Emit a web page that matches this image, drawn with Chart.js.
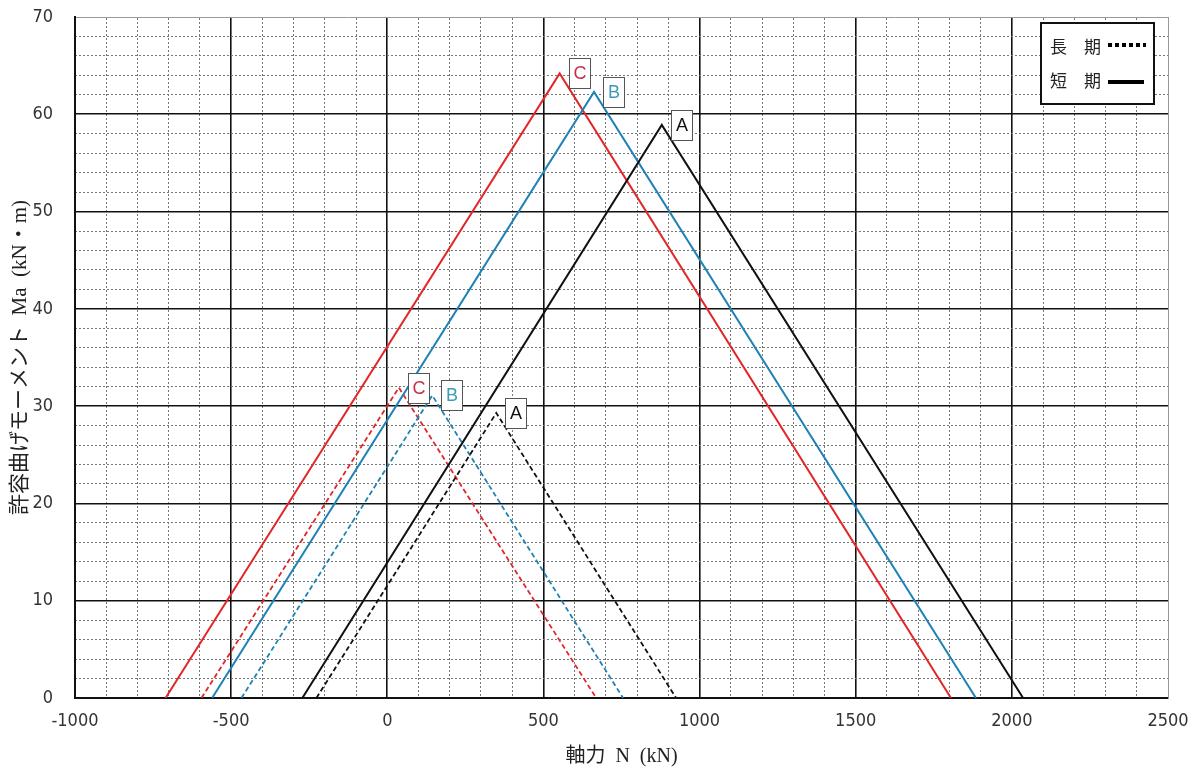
<!DOCTYPE html>
<html><head><meta charset="utf-8">
<script src="https://cdn.jsdelivr.net/npm/chart.js@4/dist/chart.umd.min.js"></script>
<style>html,body{margin:0;padding:0;background:#fff}canvas{display:block}</style>
</head><body>
<canvas id="c" width="1191" height="774"></canvas>
<script>
// ---- data (axial force N [kN] at start, peak, end ; moment Ma [kN·m]) ----
const seriesNames = ['A', 'B', 'C'];
const lineColors  = ['#111111', '#1f82b6', '#e2262a'];
const textColors  = ['#111111', '#3b9bb9', '#c4304c'];

// 短期 (solid)
const shortA_N = [-272, 879, 2036];  const shortA_M = [0, 58.9, 0];
const shortB_N = [-561, 662, 1885];  const shortB_M = [0, 62.3, 0];
const shortC_N = [-710, 552, 1805];  const shortC_M = [0, 64.2, 0];
// 長期 (dashed)
const longA_N  = [-227, 349, 925];   const longA_M  = [0, 29.3, 0];
const longB_N  = [-467, 144, 755];   const longB_M  = [0, 31.1, 0];
const longC_N  = [-595, 37, 669];    const longC_M  = [0, 31.9, 0];

const legendLabels = ['長　期', '短　期'];
const xTitle = '軸力  N  (kN)';
const yTitle = '許容曲げモーメント  Ma  (kN・m)';

function pts(N, M) { return N.map((n, i) => ({x: n, y: M[i]})); }

const series = [
  {name: 'A', N: shortA_N, M: shortA_M, dashed: false, ci: 0},
  {name: 'B', N: shortB_N, M: shortB_M, dashed: false, ci: 1},
  {name: 'C', N: shortC_N, M: shortC_M, dashed: false, ci: 2},
  {name: 'A', N: longA_N,  M: longA_M,  dashed: true,  ci: 0},
  {name: 'B', N: longB_N,  M: longB_M,  dashed: true,  ci: 1},
  {name: 'C', N: longC_N,  M: longC_M,  dashed: true,  ci: 2},
];

const datasets = series.map(s => ({
  label: s.name + (s.dashed ? ' 長期' : ' 短期'),
  data: pts(s.N, s.M),
  borderColor: lineColors[s.ci],
  borderWidth: s.dashed ? 1.8 : 2,
  borderDash: s.dashed ? [5, 3] : [],
  pointRadius: 0,
  tension: 0,
  fill: false,
  seriesLabel: s.name,
  labelColor: textColors[s.ci],
}));

const tickFont = {family: "'Liberation Sans Narrow','DejaVu Sans Condensed',sans-serif", size: 18};
const titleFontFamily = "'Liberation Serif','Noto Sans CJK JP',serif";

const peakLabels = {
  id: 'peakLabels',
  afterDatasetsDraw(chart) {
    const ctx = chart.ctx;
    chart.data.datasets.forEach((ds, i) => {
      const p = chart.getDatasetMeta(i).data[1];
      const bw = 21, bh = 30;
      const bx = Math.round(p.x + 9), by = Math.round(p.y - bh / 2);
      ctx.save();
      ctx.fillStyle = '#fff';
      ctx.fillRect(bx, by, bw, bh);
      ctx.strokeStyle = '#555';
      ctx.lineWidth = 1;
      ctx.strokeRect(bx + 0.5, by + 0.5, bw, bh);
      ctx.fillStyle = ds.labelColor;
      ctx.font = "18px 'Liberation Sans',sans-serif";
      ctx.textAlign = 'center';
      ctx.textBaseline = 'middle';
      ctx.fillText(ds.seriesLabel, bx + bw / 2 + 0.5, by + bh / 2 + 1);
      ctx.restore();
    });
  }
};

const boxLegend = {
  id: 'boxLegend',
  afterDraw(chart) {
    const ctx = chart.ctx, a = chart.chartArea;
    const x0 = a.right - 127, y0 = a.top + 6, w = 113, h = 81;
    ctx.save();
    ctx.fillStyle = '#fff';
    ctx.fillRect(x0, y0, w, h);
    ctx.strokeStyle = '#111';
    ctx.lineWidth = 2;
    ctx.strokeRect(x0, y0, w, h);
    ctx.fillStyle = '#222';
    ctx.font = "17px 'Noto Sans CJK JP',sans-serif";
    ctx.textBaseline = 'middle';
    ctx.textAlign = 'left';
    ctx.fillText(legendLabels[0], x0 + 9, y0 + 24);
    ctx.fillText(legendLabels[1], x0 + 9, y0 + 58);
    ctx.strokeStyle = '#000';
    ctx.lineWidth = 4;
    ctx.setLineDash([4, 3]);
    ctx.beginPath(); ctx.moveTo(x0 + 67, y0 + 22); ctx.lineTo(x0 + 105, y0 + 22); ctx.stroke();
    ctx.setLineDash([]);
    ctx.beginPath(); ctx.moveTo(x0 + 67, y0 + 59); ctx.lineTo(x0 + 103, y0 + 59); ctx.stroke();
    ctx.restore();
  }
};

function noPadH(s) { s.paddingLeft = 0; s.paddingRight = 0; }
function noPadV(s) { s.paddingTop = 0; s.paddingBottom = 0; }

new Chart(document.getElementById('c'), {
  type: 'line',
  data: {datasets},
  options: {
    responsive: false,
    animation: false,
    layout: {padding: {top: 17, right: 23, left: 0, bottom: 0}},
    plugins: {legend: {display: false}, tooltip: {enabled: false}},
    scales: {
      x: {
        type: 'linear', position: 'bottom', min: -1000, max: 2500,
        ticks: {stepSize: 500, font: tickFont, color: '#333', padding: 13, maxRotation: 0,
                callback: v => String(v)},
        grid: {
          drawTicks: false,
          color: c => (c.tick && (c.tick.value === -1000 || c.tick.value === 2500)) ? 'rgba(0,0,0,0)' : '#111',
          lineWidth: 1.6,
        },
        border: {display: true, color: '#111', width: 2},
        title: {display: true, text: xTitle, color: '#222',
                font: {family: titleFontFamily, size: 20}, padding: {top: 0, bottom: 5}},
        afterFit: s => { s.height = 76; noPadH(s); },
      },
      xMinor: {
        type: 'linear', position: 'top', min: -1000, max: 2500,
        ticks: {stepSize: 100, display: false},
        grid: {
          drawTicks: false,
          color: c => (c.tick && c.tick.value % 500 === 0) ? 'rgba(0,0,0,0)' : '#777',
          lineWidth: 1,
        },
        border: {display: true, color: '#999', width: 1, dash: [2, 2]},
        afterFit: s => { s.height = 0; noPadH(s); },
      },
      y: {
        type: 'linear', position: 'left', min: 0, max: 70,
        ticks: {stepSize: 10, font: tickFont, color: '#333', padding: 22,
                callback: v => String(v)},
        grid: {
          drawTicks: false,
          color: c => (c.tick && (c.tick.value === 0 || c.tick.value === 70)) ? 'rgba(0,0,0,0)' : '#111',
          lineWidth: 1.6,
        },
        border: {display: true, color: '#111', width: 2},
        title: {display: true, text: yTitle, color: '#222',
                font: {family: titleFontFamily, size: 21}, padding: {top: 8, bottom: 0}},
        afterFit: s => { s.width = 75; noPadV(s); },
      },
      yMinor: {
        type: 'linear', position: 'right', min: 0, max: 70,
        ticks: {stepSize: 2, display: false},
        grid: {
          drawTicks: false,
          color: c => (c.tick && c.tick.value % 10 === 0) ? 'rgba(0,0,0,0)' : '#777',
          lineWidth: 1,
        },
        border: {display: true, color: '#999', width: 1, dash: [2, 2]},
        afterFit: s => { s.width = 0; noPadV(s); },
      },
    },
  },
  plugins: [peakLabels, boxLegend],
});
</script>
</body></html>
